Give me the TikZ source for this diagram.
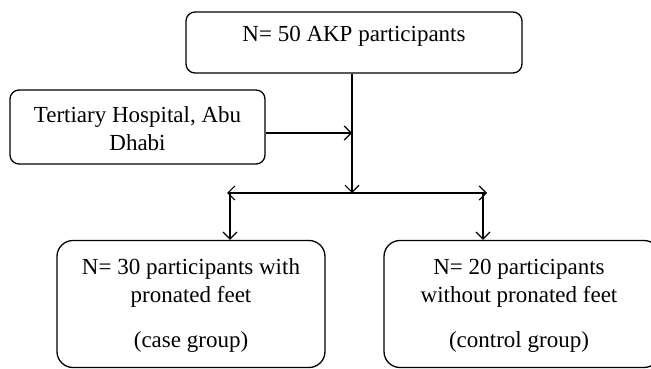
\documentclass[tikz,border=0pt]{standalone}
\usepackage{fontspec}
\setmainfont{Liberation Serif}
\usetikzlibrary{arrows.meta}
\begin{document}
\begin{tikzpicture}[x=1pt,y=-1pt,
  box/.style={draw, line width=1.3pt, inner sep=0pt},
  txt/.style={font=\fontsize{23}{28}\selectfont, align=center, inner sep=0pt},
  conn/.style={line width=1.3pt},
  barb/.tip={Straight Barb[length=7pt,width=14pt,line width=1.2pt]},
  tip/.style={-barb}
]
\useasboundingbox (0,0) rectangle (651,369);
\clip (0,0) rectangle (651,369);
\fill[white] (0,0) rectangle (651,369);
% boxes
\node[box, rounded corners=9pt, minimum width=336pt, minimum height=61pt] (top) at (354,42.5) {};
\node[box, rounded corners=9pt, minimum width=255pt, minimum height=74pt] (hosp) at (137.5,127) {};
\node[box, rounded corners=16pt, minimum width=268pt, minimum height=127pt] (left) at (191,304) {};
\node[box, rounded corners=16pt, minimum width=276pt, minimum height=127pt] (right) at (522,304) {};
% texts
\node[txt] (ttop) at (354,36) {N= 50 AKP participants};
\node[txt] (thosp) at (137.5,129) {Tertiary Hospital, Abu\\Dhabi};
\node[txt] (tleft) at (191,283) {N= 30 participants with\\pronated feet};
\node[txt] (tleftb) at (191,342) {(case group)};
\node[txt] (tright) at (519,283) {N= 20 participants\\without pronated feet};
\node[txt] (trightb) at (519,342) {(control group)};
% junction coordinates
\coordinate (j) at (352,133);
\coordinate (m) at (352,193);
\coordinate (bl) at (227,193);
\coordinate (br) at (487,193);
\coordinate (dl) at (230,193);
\coordinate (dr) at (483,193);
% connectors
\draw[conn, tip] (top.south -| j) -- (m);
\draw[conn, tip] (hosp.east |- j) -- (j);
\draw[conn, barb-barb] (bl) -- (br);
\draw[conn, tip] (dl) -- (left.north -| dl);
\draw[conn, tip] (dr) -- (right.north -| dr);
\end{tikzpicture}
\end{document}
